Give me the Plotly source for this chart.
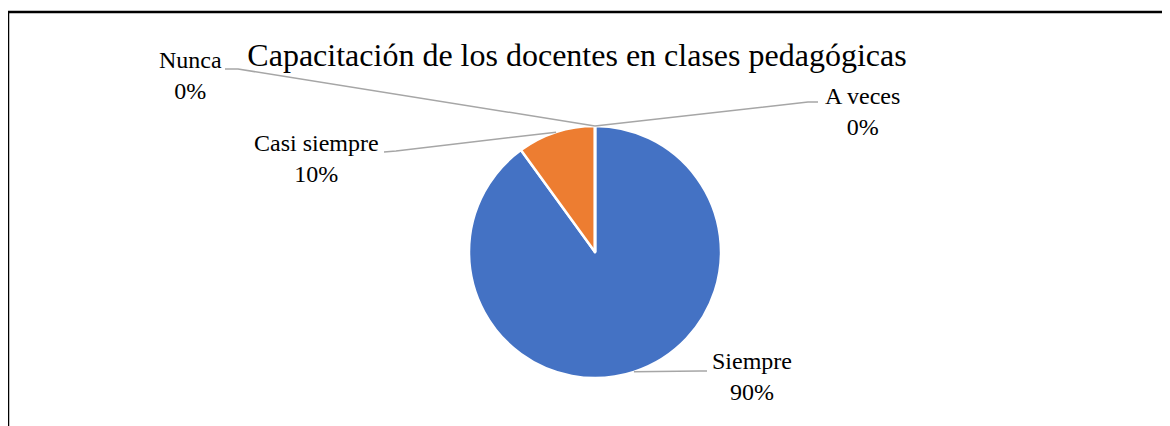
import math
import plotly.graph_objects as go

labels = ['Siempre', 'Casi siempre', 'A veces', 'Nunca']
values = [90, 10, 0, 0]
colors = ['#4472C4', '#ED7D31', '#A5A5A5', '#FFC000']
title = 'Capacitación de los docentes en clases pedagógicas'

# the page body adds an 8px margin, so the figure is drawn 8px smaller
OFF = 8
W, H = 1170 - OFF, 426 - OFF
# pie centre / radius in pixels (page coordinates)
cx, cy, rad = 595, 252, 126
serif = 'Liberation Serif, Times New Roman, serif'

# where each label sits, and the short horizontal piece of its leader (page px)
label_pos = {
    'Siempre': ((752, 376), [(707, 371), (700, 371)]),
    'Casi siempre': ((316, 158), [(384, 152), (396, 151)]),
    'A veces': ((862, 112), [(818, 102), (808, 102)]),
    'Nunca': ((190, 76), [(225, 69), (238, 69)]),
}


def px(x, y):
    return (x - OFF) / W, 1 - (y - OFF) / H


fig = go.Figure()
dx0, dy0 = px(cx - rad, cy + rad)
dx1, dy1 = px(cx + rad, cy - rad)
fig.add_trace(go.Pie(
    labels=labels,
    values=values,
    sort=False,
    direction='clockwise',
    rotation=0,
    textinfo='none',
    hoverinfo='label+percent',
    marker=dict(colors=colors, line=dict(color='white', width=2.5)),
    domain=dict(x=[dx0, dx1], y=[dy0, dy1]),
))

total = sum(values)
annotations = []
shapes = []
cum = 0
for lab, val in zip(labels, values):
    mid = (cum + val / 2) / total * 2 * math.pi
    cum += val
    ax = cx + rad * math.sin(mid)
    ay = cy - rad * math.cos(mid)
    (tx, ty), elbow = label_pos[lab]
    pts = elbow + [(ax, ay)]
    path = 'M ' + ' L '.join('%f,%f' % px(x, y) for x, y in pts)
    shapes.append(dict(type='path', path=path, xref='paper', yref='paper',
                       line=dict(color='#A6A6A6', width=1.5)))
    x0, y0 = px(tx, ty)
    annotations.append(dict(
        x=x0, y=y0, xref='paper', yref='paper', showarrow=False,
        xanchor='center', yanchor='middle', align='center',
        text='%s<br>%d%%' % (lab, round(val / total * 100)),
        font=dict(family=serif, size=24, color='black'),
    ))

# chart border (left and top edges visible)
bx0, by0 = px(8, 426 + 5)
bx1, by1 = px(8, 12)
bx2, by2 = px(1170 + 5, 12)
shapes.append(dict(type='path', xref='paper', yref='paper',
                   path='M %f,%f L %f,%f L %f,%f' % (bx0, by0, bx1, by1, bx2, by2),
                   line=dict(color='black', width=2.5)))

tx, ty = px(577, 55)
fig.update_layout(
    width=W, height=H,
    margin=dict(l=0, r=0, t=0, b=0),
    paper_bgcolor='white',
    plot_bgcolor='white',
    showlegend=False,
    title=dict(text=title, x=tx, y=ty, xanchor='center', yanchor='middle',
               font=dict(family=serif, size=32, color='black')),
    annotations=annotations,
    shapes=shapes,
)

fig.write_html('out.html')
